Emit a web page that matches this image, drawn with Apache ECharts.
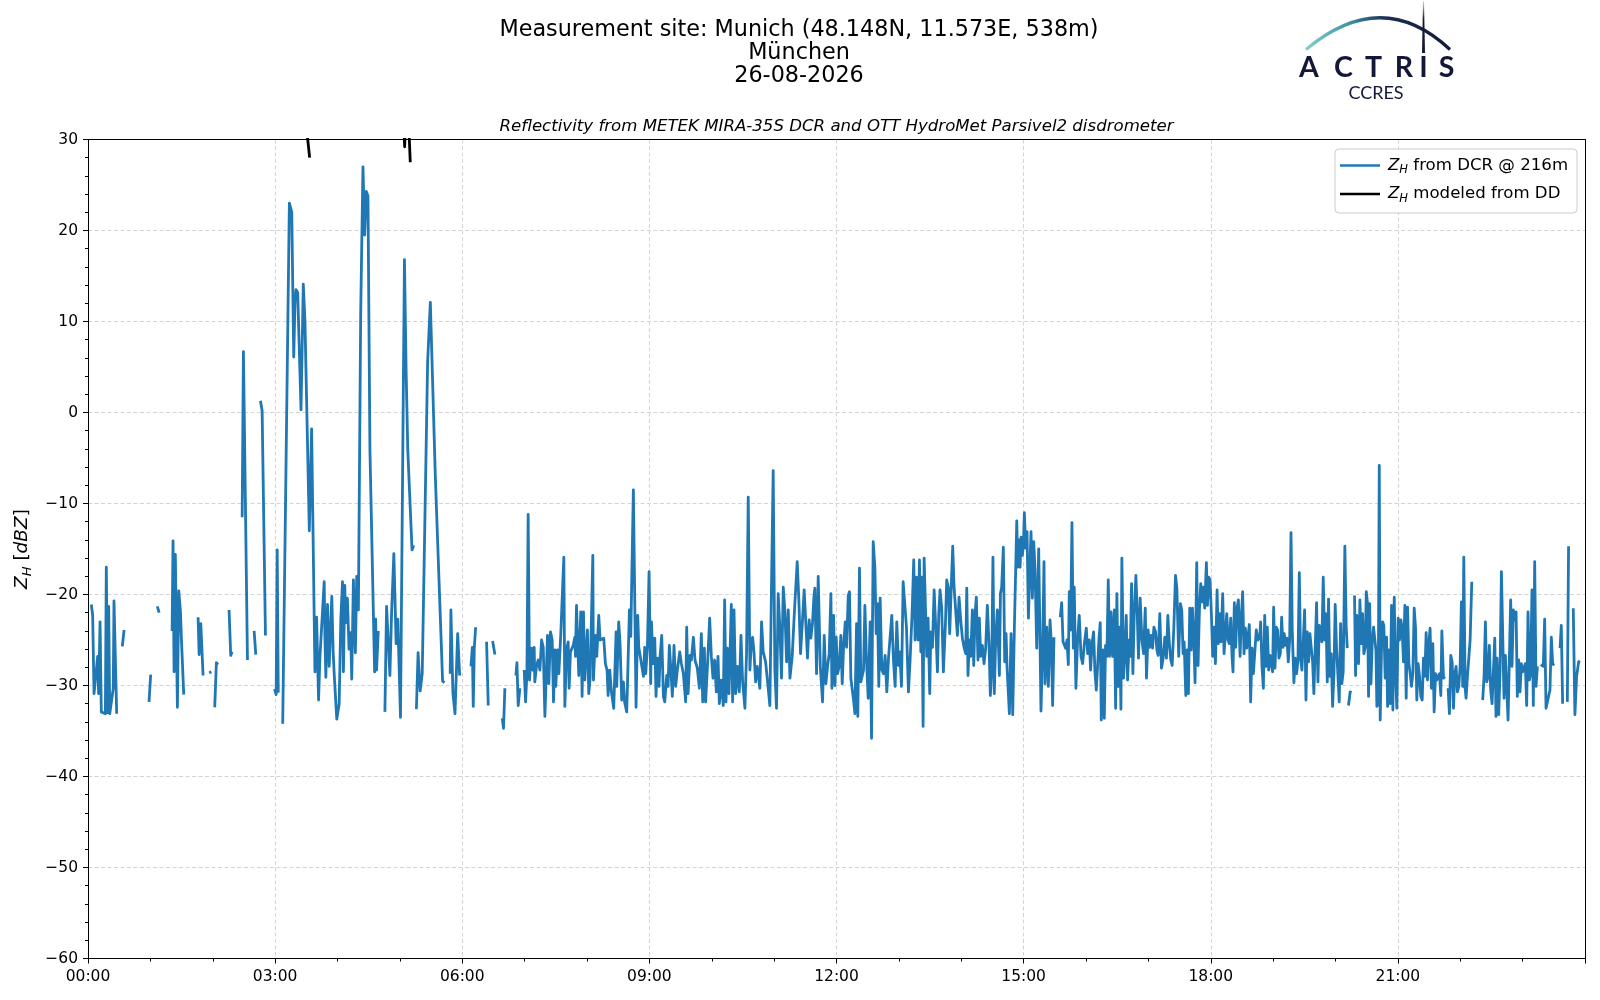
<!DOCTYPE html>
<html><head><meta charset="utf-8">
<script src="https://cdn.jsdelivr.net/npm/echarts@6/dist/echarts.min.js"></script>
<style>html,body{margin:0;padding:0;background:#fff}#c{width:1600px;height:1000px}</style>
</head><body><div id="c"></div>
<script>
// Minutes after 00:00 UTC, Z_H in dBZ. null = gap in the record.
const dcrH00 = [[3.2,-21.1],[4.5,-22.3],[5.8,-30.9],[9.3,-26.8],[10.2,-30.9],[11.6,-23.0],[12.8,-32.9],[16.7,-33.1],[17.6,-17.0],[19.0,-33.0],[19.9,-21.3],[20.9,-33.1],[22.5,-33.1],[24.3,-30.3],[25.0,-20.7],[27.6,-33.1],[30,null],
[33.0,-25.7],[34.7,-23.9],[45,null],[58.7,-31.8],[60.3,-28.8],[63,null],[66.7,-21.3],[68.4,-22.0],[75,null],
[80.9,-24.0],[81.8,-14.1],[82.8,-28.5],[84.0,-15.6],[86.0,-32.4],[87.3,-19.6],[88.9,-21.8],[89.9,-25.0],[92.1,-31.0],[100,null],
[105.9,-22.5],[106.9,-26.6],[108.5,-23.2],[110.7,-28.9],[113,null],[116.5,-28.6],[118.7,-28.5],[120,null],
[121.9,-32.4],[123.5,-27.5],[125.1,-27.7],[130,null],[135.7,-21.7],[137.3,-26.7],[138.6,-26.3],[143,null],
[148.3,-11.5],[149.5,6.7],[150.8,6.5],[153.4,-27.2],[156,null],[159.8,-24.0],[161.4,-26.6],[163,null],
[165.9,1.3],[167.5,0.2],[170.7,-24.5],[175,null],[179.4,-30.4],[181.0,-31.0],[182.0,-15.1],[183.0,-30.8],[185,null]];

const dcrH03 = [[187.3,-34.2],[193.7,23.0],[196.0,22.0],[197.9,6.1],[199.1,12.1],[200.1,13.5],[201.7,13.2],[204.9,0.3],[207.1,14.1],[208.7,10.0],[212.9,-13.0],[215.1,-1.8],[218.3,-28.5],[219.9,-22.5],[221.8,-31.6],[223.1,-26.9],[227.2,-18.6],[227.9,-24.8],[228.8,-29.1],[230.4,-21.1],[232.0,-27.9],[234.5,-20.2],[235.8,-26.2],[236.8,-28.7],[239.3,-33.7],[241.6,-32.0],[243.2,-22.7],[244.8,-18.6],[245.7,-28.5],[247.0,-19.0],[247.9,-23.1],[249.5,-20.4],[251.1,-26.0],[252.7,-24.2],[253.7,-29.3],[255.3,-18.4],[257.2,-26.4],[258.5,-18.0],[260.1,-21.7],[262.3,10.8],[264.5,27.0],[266.1,19.5],[267.7,24.3],[269.3,23.8],[271.2,-4.1],[275.7,-28.5],[276.7,-22.7],[277.6,-28.3],[279.2,-24.0],[282,null],
[285.6,-32.9],[287.2,-21.3],[290.4,-28.9],[292.0,-22.1],[294.2,-15.5],[296.4,-25.4],[298.0,-22.7],[300.6,-33.5],[304.4,16.8],[306.0,4.6],[307.6,-4.1],[311.7,-15.1],[313.3,-14.6],[314.5,null],
[315.9,-32.6],[317.5,-26.4],[319.5,-30.6],[321.5,-28.7],[326.7,5.6],[329.3,12.1],[330.2,12.0],[334.1,-7.0],[341.1,-29.5],[342.7,-29.7],[345,null],
[348.4,-28.7],[349.1,-21.7],[351.0,-30.8],[353.0,-33.1],[355.6,-24.3],[357.5,-28.9],[362,null]];

const dcrH06 = [[368.4,-27.9],[369.7,-25.8],[370.6,-32.3],[371.6,-25.8],[372.9,-23.6],[376,null],[383.4,-25.2],[385.0,-32.2],[387,null],
[389.2,-25.1],[391.4,-26.6],[395,null],[398.5,-33.6],[399.7,-34.7],[401.0,-30.3],[406,null],
[411.6,-28.9],[412.6,-27.5],[413.8,-32.2],[415.4,-30.3],[417,null],
[419.6,-28.3],[420.9,-31.8],[422.2,-28.7],[423.4,-11.2],[424.7,-29.4],[426.6,-25.9],[427.6,-28.3],[429.2,-25.8],[429.8,-29.6],[431.4,-27.9],[433.0,-27.2],[434.7,-28.3],[436.3,-25.0],[437.9,-25.8],[439.5,-33.4],[442.0,-24.5],[443.3,-29.8],[444.9,-24.1],[446.5,-25.0],[447.8,-31.8],[449.1,-26.1],[450.0,-30.1],[451.6,-26.1],[452.9,-28.7],[454.8,-24.3],[456.1,-24.1],[457.7,-15.9],[458.7,-32.3],[460.3,-26.1],[461.9,-25.2],[462.8,-30.3],[464.1,-26.3],[466.7,-25.6],[468.3,-24.7],[468.9,-26.8],[469.9,-21.2],[472.1,-28.9],[474.0,-21.9],[475.3,-31.2],[476.6,-21.9],[477.9,-29.4],[480.4,-23.9],[481.7,-30.9],[483.0,-29.2],[485.6,-15.7],[486.2,-29.4],[488.1,-24.5],[489.4,-26.8],[491.3,-22.3],[492.6,-25.0],[494.5,-25.2],[496.1,-24.8],[497.7,-27.6],[499.3,-28.3],[500.3,-31.1],[501.9,-28.3],[503.5,-30.7],[505.7,-32.5],[508.0,-24.1],[508.6,-30.1],[510.5,-23.0],[511.8,-25.4],[513.4,-31.6],[515.0,-29.6],[516.3,-31.9],[518.2,-32.9],[518.9,-30.1],[520.8,-21.7],[522.1,-24.6],[524.6,-8.5],[527.2,-32.4],[528.8,-22.3],[529.8,-25.8],[534.3,-29.0],[535.5,-25.8],[536.5,-28.7],[538.1,-25.8]];

const dcrH09 = [[539.7,-17.5],[541.3,-29.8],[542.0,-23.0],[543.6,-27.6],[545.2,-24.8],[546.4,-31.2],[547.7,-27.0],[549.3,-30.1],[550.3,-26.8],[551.9,-24.5],[553.5,-31.2],[554.8,-31.8],[556.7,-28.9],[558.0,-30.1],[559.2,-25.6],[560.5,-27.9],[562.1,-31.2],[563.7,-25.6],[565.3,-30.1],[566.9,-28.3],[569.2,-26.3],[570.8,-27.6],[572.7,-28.7],[574.9,-31.8],[575.9,-23.6],[577.2,-30.9],[579.1,-26.7],[580.4,-27.2],[582.3,-24.7],[583.9,-27.2],[586.1,-28.1],[588.1,-30.3],[590.0,-24.3],[591.3,-31.8],[592.9,-25.9],[594.1,-31.8],[595.7,-28.3],[598.0,-22.6],[599.6,-26.8],[601.2,-29.2],[602.8,-27.2],[604.4,-30.7],[606.0,-26.8],[607.3,-32.0],[609.2,-29.4],[611.1,-32.2],[612.4,-20.6],[613.7,-31.8],[615.0,-25.9],[616.6,-30.9],[618.8,-21.1],[620.1,-31.8],[621.4,-21.7],[623.0,-30.9],[624.6,-27.9],[626.5,-30.7],[628.1,-24.5],[629.7,-29.6],[631.9,-32.5],[633.5,-26.3],[635.1,-9.3],[636.7,-28.3],[638.0,-25.4],[639.3,-24.7],[640.6,-26.3],[642.2,-29.6],[643.8,-27.9],[646.3,-30.3],[647.9,-23.0],[649.5,-26.3],[651.8,-27.4],[654.3,-30.3],[655.9,-32.2],[657.2,-21.3],[659.1,-6.4],[660.7,-28.3],[662.3,-32.5],[663.9,-19.9],[665.5,-23.6],[667.1,-29.2],[668.8,-19.2],[670.4,-21.9],[672.0,-27.4],[673.6,-21.7],[675.2,-29.2],[677.4,-26.8],[679.6,-21.7],[682.2,-16.4],[683.8,-20.6],[685.4,-26.5],[687.0,-23.4],[688.9,-19.5],[690.5,-23.2],[692.1,-27.0],[693.7,-22.8],[695.3,-24.8],[696.9,-23.2],[698.2,-20.4],[699.2,-19.3],[700.8,-28.7],[702.4,-18.0],[704.4,-27.9],[706.6,-31.8],[708.2,-24.5],[709.8,-29.8],[711.4,-27.9],[713.0,-26.5],[714.6,-19.9],[715.6,-30.3],[717.2,-22.3],[718.5,-30.0],[719.7,-24.7]];

const dcrH12 = [[721.0,-28.7],[722.6,-27.9],[724.2,-24.5],[725.5,-29.8],[726.8,-25.8],[728.4,-23.0],[729.7,-25.8],[731.3,-20.1],[732.5,-19.7],[733.8,-29.2],[736.4,-31.6],[737.7,-33.1],[739.3,-23.2],[740.5,-33.4],[742.1,-17.1],[743.4,-29.6],[746.0,-28.3],[747.3,-21.2],[748.9,-27.4],[750.5,-31.4],[752.4,-23.0],[753.7,-35.8],[755.3,-14.2],[756.9,-17.0],[758.2,-24.3],[759.4,-21.0],[760.7,-30.1],[762.0,-20.4],[763.6,-28.3],[765.2,-28.7],[766.8,-26.7],[768.4,-30.7],[770.0,-27.0],[771.6,-27.2],[773.2,-22.3],[774.8,-27.2],[776.4,-30.1],[778.0,-23.0],[779.6,-27.8],[780.9,-26.3],[782.5,-30.1],[784.1,-18.6],[785.7,-18.6],[787.3,-23.6],[789.2,-30.7],[790.8,-27.2],[792.7,-22.1],[794.3,-16.2],[795.6,-25.0],[796.9,-18.1],[798.5,-25.0],[799.8,-16.2],[801.1,-26.3],[802.0,-18.1],[803.3,-34.5],[804.3,-16.0],[805.2,-16.0],[806.8,-26.8],[808.1,-22.6],[809.7,-30.9],[810.7,-24.1],[812.3,-25.8],[813.9,-19.5],[815.5,-23.6],[817.1,-28.5],[818.4,-22.1],[819.6,-19.5],[821.2,-21.5],[822.8,-28.5],[824.8,-23.2],[826.0,-18.4],[827.6,-19.2],[828.9,-24.3],[830.5,-18.8],[831.8,-14.7],[833.1,-19.2],[834.7,-19.3],[836.3,-24.5],[837.9,-20.3],[839.5,-22.8],[841.1,-24.8],[842.7,-25.8],[844.3,-26.5],[845.3,-19.3],[846.5,-28.9],[847.8,-25.0],[849.1,-26.8],[850.7,-21.7],[852.0,-27.8],[853.3,-22.1],[854.5,-20.3],[856.1,-27.2],[857.4,-22.6],[858.7,-26.8],[860.3,-25.6],[861.9,-27.6],[863.5,-25.9],[865.1,-21.2],[866.7,-25.4],[868.0,-31.1],[869.3,-28.3],[870.5,-15.9],[871.8,-30.9],[873.1,-25.0],[874.7,-21.7],[876.7,-28.9],[877.7,-19.9],[878.9,-19.2],[880.5,-14.8],[881.8,-27.4],[883.1,-24.3],[884.1,-28.1],[886.3,-33.1],[887.9,-24.3],[889.5,-33.2],[891.1,-23.6],[892.4,-17.1],[893.4,-11.9],[894.3,-17.0],[895.6,-14.0],[896.6,-17.0],[897.5,-13.7],[898.8,-15.7],[899.8,-14.6]];

const dcrH15 = [[900.7,-11.0],[902.0,-14.9],[903.3,-13.1],[904.6,-22.6],[905.8,-17.9],[907.1,-13.1],[908.4,-20.4],[909.7,-14.2],[911.0,-17.3],[912.6,-25.9],[914.5,-15.0],[916.7,-32.8],[918.3,-25.8],[919.6,-16.4],[920.6,-29.8],[922.2,-23.6],[923.8,-30.1],[925.4,-22.8],[926.7,-25.4],[927.9,-32.2],[929.2,-24.7],[932,null],
[935.3,-22.5],[936.6,-20.9],[937.9,-25.2],[939.1,-25.4],[940.4,-25.9],[941.7,-25.0],[943.0,-27.7],[943.9,-19.7],[945.2,-23.9],[946.5,-12.1],[947.8,-25.9],[948.7,-19.2],[950.3,-30.3],[951.9,-25.0],[953.5,-22.3],[955.2,-26.8],[956.8,-27.6],[958.4,-25.4],[960.3,-23.7],[961.6,-26.5],[963.2,-25.0],[964.4,-28.3],[966.0,-25.2],[967.3,-24.1],[968.6,-28.5],[969.9,-30.5],[971.2,-27.8],[972.4,-25.0],[973.7,-23.1],[974.7,-33.8],[976.3,-26.1],[977.6,-33.6],[978.8,-25.6],[980.1,-26.8],[981.4,-18.4],[982.7,-26.8],[984.0,-21.9],[985.6,-26.8],[987.2,-21.7],[988.5,-32.5],[989.7,-19.9],[991.0,-30.1],[992.3,-23.6],[993.6,-32.6],[994.5,-16.0],[996.1,-29.2],[997.4,-26.5],[998.7,-22.3],[1000.0,-29.4],[1001.6,-25.0],[1002.5,-26.8],[1003.8,-18.8],[1005.1,-28.7],[1006.4,-22.1],[1008.0,-17.9],[1009.3,-22.1],[1010.5,-27.0],[1012.1,-20.4],[1013.8,-25.0],[1015.4,-26.5],[1017.0,-21.5],[1018.2,-29.2],[1019.8,-23.9],[1021.1,-25.8],[1022.4,-24.5],[1024.0,-25.9],[1025.3,-23.6],[1026.9,-24.1],[1028.2,-26.1],[1029.4,-26.7],[1031.0,-22.1],[1032.6,-28.1],[1034.2,-27.0],[1035.8,-24.7],[1037.4,-27.0],[1038.7,-22.3],[1040.3,-25.6],[1041.6,-27.2],[1042.9,-27.8],[1044.5,-23.6],[1046.1,-17.9],[1047.4,-19.3],[1049.2,-26.8],[1050.8,-21.0],[1052.1,-21.7],[1053.4,-26.5],[1054.4,-25.2],[1056.0,-31.1],[1057.2,-26.1],[1058.5,-30.9],[1059.8,-21.5],[1061.1,-26.1],[1062.4,-21.5],[1063.7,-25.0],[1064.9,-29.7],[1066.5,-16.5],[1067.8,-27.8],[1069.1,-21.7],[1070.4,-18.8],[1071.7,-20.8],[1072.9,-19.2],[1074.2,-21.5],[1075.8,-16.5],[1076.8,-21.2],[1078.1,-18.1],[1079.3,-18.4]];

const dcrH18 = [[1080.6,-22.1],[1081.9,-26.8],[1083.2,-23.6],[1084.5,-27.6],[1086.1,-19.5],[1087.3,-25.4],[1088.6,-22.1],[1089.9,-25.2],[1091.5,-19.9],[1092.8,-26.5],[1094.1,-26.7],[1095.4,-22.1],[1096.6,-25.0],[1097.9,-25.4],[1099.2,-22.6],[1100.5,-26.8],[1101.4,-28.5],[1102.7,-20.9],[1104.0,-25.8],[1105.3,-21.5],[1106.6,-20.6],[1108.2,-26.8],[1109.4,-22.5],[1110.7,-19.7],[1112.0,-26.5],[1113.3,-23.7],[1114.6,-25.9],[1115.8,-26.1],[1117.1,-23.3],[1118.4,-31.8],[1119.7,-25.9],[1121.0,-28.7],[1122.2,-28.9],[1123.8,-23.9],[1125.4,-25.0],[1127.1,-24.7],[1128.0,-23.0],[1129.3,-27.9],[1130.6,-30.3],[1131.9,-22.3],[1133.1,-27.9],[1134.4,-23.6],[1135.7,-28.3],[1137.0,-26.7],[1138.3,-27.6],[1139.5,-28.5],[1140.5,-21.4],[1141.8,-28.1],[1143.1,-23.6],[1144.3,-23.9],[1145.6,-27.0],[1146.9,-26.5],[1148.2,-22.5],[1149.5,-25.8],[1150.7,-24.3],[1152.0,-25.6],[1153.3,-24.8],[1154.6,-27.4],[1155.9,-25.0],[1157.2,-13.2],[1158.4,-23.9],[1160.0,-29.7],[1161.3,-27.0],[1162.6,-28.7],[1163.9,-27.2],[1165.2,-17.6],[1166.4,-27.0],[1167.7,-28.3],[1169.0,-28.3],[1170.3,-21.7],[1171.6,-31.6],[1172.8,-24.1],[1174.1,-27.4],[1175.4,-24.3],[1176.7,-25.9],[1178.0,-27.4],[1179.2,-30.9],[1180.5,-25.8],[1181.8,-20.9],[1183.1,-29.6],[1184.4,-23.4],[1185.6,-23.2],[1186.9,-25.2],[1188.2,-18.1],[1189.5,-25.0],[1190.8,-22.1],[1192.1,-29.6],[1193.3,-20.5],[1194.6,-29.0],[1195.9,-26.5],[1197.2,-32.3],[1198.5,-28.7],[1199.7,-21.1],[1201.0,-25.9],[1202.3,-26.1],[1203.6,-31.8],[1204.9,-23.2],[1206.1,-29.8],[1207.4,-28.5],[1209.0,-14.7],[1210.3,-23.6],[1211.3,-25.9],[1212,null],
[1212.5,-32.2],[1214.1,-30.7],[1215.4,-30.8],[1217,null],
[1218.3,-20.1],[1219.3,-28.9],[1220.5,-22.3],[1222.2,-27.6],[1223.5,-20.6],[1224.8,-25.4],[1226.0,-22.1],[1227.3,-26.5],[1228.6,-25.8],[1229.6,-19.7],[1230.8,-21.0],[1231.8,-31.2],[1232.8,-21.0],[1234.1,-29.8],[1235.3,-25.4],[1236.6,-23.6],[1237.9,-23.6],[1238.9,-26.1],[1239.8,-32.3],[1241.1,-32.0],[1242.1,-5.8],[1243.0,-33.8],[1244.3,-25.6],[1245.3,-23.0],[1246.5,-23.4],[1247.8,-29.2],[1249.1,-24.7],[1250.1,-32.3],[1251.3,-26.1],[1252.6,-32.0],[1253.9,-21.2],[1255.2,-32.7],[1256.5,-20.3],[1257.7,-28.3],[1259.0,-32.5]];

const dcrH21 = [[1260.3,-22.6],[1261.6,-25.0],[1262.9,-22.8],[1264.1,-23.7],[1265.4,-27.4],[1266.7,-21.2],[1268.0,-31.4],[1269.3,-21.4],[1270.6,-27.6],[1271.8,-28.7],[1273.1,-30.1],[1274.4,-28.7],[1275.7,-21.5],[1277.0,-23.7],[1278.2,-31.6],[1279.5,-27.6],[1280.8,-29.0],[1282.1,-31.2],[1283.4,-31.6],[1284.6,-27.0],[1285.9,-29.0],[1287.2,-24.2],[1288.5,-29.4],[1289.8,-25.4],[1291.0,-23.7],[1292.3,-30.3],[1293.6,-25.4],[1294.9,-32.9],[1296.2,-28.7],[1297.4,-29.4],[1298.7,-29.0],[1300.0,-28.7],[1301.3,-31.1],[1302.3,-24.0],[1303.9,-29.2],[1305.1,-29.0],[1306.5,null],
[1308.3,-30.3],[1309.6,-33.1],[1310.9,-26.7],[1312.2,-27.4],[1313.5,-32.5],[1314.7,-28.7],[1316.0,-27.9],[1317.3,-30.7],[1318.6,-30.1],[1319.9,-27.9],[1321.1,-20.8],[1322.4,-30.1],[1323.4,-15.9],[1324.7,-30.3],[1325.6,-31.4],[1326.9,-29.0],[1328.2,-29.0],[1329.5,-25.0],[1331.1,-18.6],[1336,null],
[1341.6,-31.6],[1342.9,-29.0],[1344.2,-23.0],[1345.5,-29.6],[1346.8,-29.0],[1348.0,-25.6],[1349.3,-30.5],[1350.6,-32.0],[1351.9,-32.0],[1353.2,-24.8],[1354.4,-33.4],[1355.4,-27.0],[1357.0,-33.2],[1358.3,-28.3],[1359.6,-17.5],[1360.9,-17.7],[1362.1,-31.4],[1363.4,-26.7],[1364.7,-26.7],[1366.0,-33.8],[1367.3,-26.8],[1368.5,-20.6],[1369.8,-27.9],[1371.1,-21.7],[1372.4,-22.8],[1373.7,-21.9],[1374.9,-31.2],[1376.2,-27.2],[1377.5,-30.7],[1378.8,-27.6],[1380.1,-28.5],[1382.6,-27.6],[1383.9,-32.2],[1385.2,-21.9],[1386.5,-29.4],[1387.7,-28.7],[1389.0,-19.5],[1390.3,-32.2],[1391.6,-16.4],[1392.9,-30.1],[1394.2,-27.9],[1395.8,null],
[1397.4,-27.7],[1398.6,-27.8],[1399.9,-27.9],[1401.2,-22.7],[1402.5,-32.5],[1406.3,-30.5],[1407.6,-24.7],[1408.9,-27.6],[1410.2,-27.8],[1413,null],
[1416.0,-25.9],[1417.2,-23.4],[1418.5,-32.0],[1420.5,null],[1423.0,-31.8],[1424.2,-14.7],[1426,null],
[1428.7,-21.5],[1430.3,-33.2],[1431.9,-29.0],[1433.9,-27.4],[1435.1,-27.3]];

// Disdrometer-modelled Z_H (mostly above the plotted range)
const ddMinutes = [209.5, 213.2, 214, 304.0, 304.6, 305.2, 306, 308.0, 310.0];
const ddZh      = [32.0, 28.0, null, 31.0, 29.2, 31.0, null, 33.0, 27.5];

const titleLines = ['Measurement site: Munich (48.148N, 11.573E, 538m)', 'München', '26-08-2026'];
const subTitle = 'Reflectivity from METEK MIRA-35S DCR and OTT HydroMet Parsivel2 disdrometer';
const legendLabels = {DCR: ' from DCR @ 216m', DD: ' modeled from DD'};

const FONT = 'DejaVu Sans';
const dcrData = [].concat(dcrH00, dcrH03, dcrH06, dcrH09, dcrH12, dcrH15, dcrH18, dcrH21);
const ddData = ddMinutes.map((m, i) => [m, ddZh[i]]);
const pad = n => (n < 10 ? '0' : '') + n;
const NAVY = '#141838';
const frameAxis = {show: true, axisLine: {show: true, onZero: false, lineStyle: {color: '#000', width: 1}},
  axisTick: {show: false}, axisLabel: {show: false}, splitLine: {show: false}, minorTick: {show: false}};

const chart = echarts.init(document.getElementById('c'), null, {renderer: 'canvas', width: 1600, height: 1000});
chart.setOption({
  animation: false,
  backgroundColor: '#ffffff',
  grid: {left: 88, right: 15, top: 139.5, bottom: 41.5},
  xAxis: [{
    type: 'value', min: 0, max: 1440, interval: 180, position: 'bottom',
    axisLine: {show: true, onZero: false, lineStyle: {color: '#000', width: 1}},
    axisTick: {show: true, length: 5, lineStyle: {color: '#000', width: 1}},
    minorTick: {show: true, splitNumber: 3, length: 3, lineStyle: {color: '#000', width: 1}},
    axisLabel: {color: '#000', fontFamily: FONT, fontSize: 15.5, margin: 10, showMaxLabel: false,
      formatter: v => v >= 1440 ? '' : pad(Math.floor(v / 60)) + ':' + pad(v % 60)},
    splitLine: {show: true, lineStyle: {color: '#d4d4d4', type: [4, 2.5], width: 1}},
    minorSplitLine: {show: false}
  }, Object.assign({type: 'value', min: 0, max: 1440, position: 'top'}, frameAxis)],
  yAxis: [{
    type: 'value', min: -60, max: 30, interval: 10, position: 'left',
    axisLine: {show: true, onZero: false, lineStyle: {color: '#000', width: 1}},
    axisTick: {show: true, length: 5, lineStyle: {color: '#000', width: 1}},
    minorTick: {show: true, splitNumber: 5, length: 3, lineStyle: {color: '#000', width: 1}},
    axisLabel: {color: '#000', fontFamily: FONT, fontSize: 15.5, margin: 10,
      formatter: v => v < 0 ? '\u2212' + Math.abs(v) : String(v)},
    splitLine: {show: true, lineStyle: {color: '#d4d4d4', type: [4, 2.5], width: 1}},
    minorSplitLine: {show: false}
  }, Object.assign({type: 'value', min: -60, max: 30, position: 'right'}, frameAxis)],
  legend: {
    orient: 'vertical', left: 1335, top: 149,
    data: [{name: 'DCR', icon: 'rect'}, {name: 'DD', icon: 'rect'}],
    itemWidth: 40, itemHeight: 2.6, itemGap: 9,
    padding: [8, 9, 8, 5],
    selectedMode: false,
    backgroundColor: 'rgba(255,255,255,0.85)', borderColor: '#cccccc', borderWidth: 1, borderRadius: 4,
    formatter: n => '{i|Z}{s|H}{t|' + legendLabels[n] + '}',
    textStyle: {color: '#000', fontFamily: FONT, fontSize: 16.6,
      rich: {
        i: {fontFamily: FONT, fontSize: 16.6, fontStyle: 'italic', color: '#000', lineHeight: 22, padding: [0, 0, 0, 3]},
        s: {fontFamily: FONT, fontSize: 11.5, fontStyle: 'italic', color: '#000', verticalAlign: 'bottom', lineHeight: 16},
        t: {fontFamily: FONT, fontSize: 16.6, color: '#000', lineHeight: 22}
      }}
  },
  graphic: [
    {type: 'text', x: 799, y: 30.5, style: {text: titleLines[0], fontFamily: FONT, fontSize: 22.3, fill: '#000', align: 'center', verticalAlign: 'middle'}},
    {type: 'text', x: 799, y: 53.5, style: {text: titleLines[1], fontFamily: FONT, fontSize: 22.3, fill: '#000', align: 'center', verticalAlign: 'middle'}},
    {type: 'text', x: 799, y: 76.3, style: {text: titleLines[2], fontFamily: FONT, fontSize: 22.3, fill: '#000', align: 'center', verticalAlign: 'middle'}},
    {type: 'text', x: 836.5, y: 127, style: {text: subTitle, fontFamily: FONT, fontSize: 16.6, fontStyle: 'italic', fill: '#000', align: 'center', verticalAlign: 'middle'}},
    {type: 'text', x: 22.5, y: 549, rotation: Math.PI / 2,
      style: {text: '{i|Z}{s|H}{t| [}{i|dBZ}{t|]}', align: 'center', verticalAlign: 'middle', fontFamily: FONT, fontSize: 18.5, fill: '#000',
        rich: {
          i: {fontFamily: FONT, fontSize: 18.5, fontStyle: 'italic', fill: '#000', lineHeight: 24},
          s: {fontFamily: FONT, fontSize: 13, fontStyle: 'italic', fill: '#000', verticalAlign: 'bottom', lineHeight: 17},
          t: {fontFamily: FONT, fontSize: 18.5, fill: '#000', lineHeight: 24}
        }}},
    // ACTRIS / CCRES logo
    {type: 'bezierCurve', shape: {x1: 1306, y1: 49.5, x2: 1450, y2: 49.5, cpx1: 1382, cpy1: -14},
      style: {fill: null, lineWidth: 3.2,
        stroke: {type: 'linear', x: 0, y: 0, x2: 1, y2: 0, colorStops: [
          {offset: 0, color: '#86d3cb'}, {offset: 0.3, color: '#3f97a3'}, {offset: 0.55, color: '#1d2d55'}, {offset: 1, color: NAVY}]}}},
    {type: 'polygon', shape: {points: [[1423, 1], [1424, 1], [1425, 53], [1422, 53]]},
      style: {fill: {type: 'linear', x: 0, y: 0, x2: 0, y2: 1, colorStops: [{offset: 0, color: '#d8d8e2'}, {offset: 0.35, color: NAVY}, {offset: 1, color: NAVY}]}}},
    {type: 'text', x: 1309, y: 67.5, style: {text: 'A', fontFamily: 'Lato', fontWeight: 'bold', fontSize: 28.5, fill: NAVY, align: 'center', verticalAlign: 'middle'}},
    {type: 'text', x: 1343.5, y: 67.5, style: {text: 'C', fontFamily: 'Lato', fontWeight: 'bold', fontSize: 28.5, fill: NAVY, align: 'center', verticalAlign: 'middle'}},
    {type: 'text', x: 1373.5, y: 67.5, style: {text: 'T', fontFamily: 'Lato', fontWeight: 'bold', fontSize: 28.5, fill: NAVY, align: 'center', verticalAlign: 'middle'}},
    {type: 'text', x: 1404, y: 67.5, style: {text: 'R', fontFamily: 'Lato', fontWeight: 'bold', fontSize: 28.5, fill: NAVY, align: 'center', verticalAlign: 'middle'}},
    {type: 'text', x: 1423.5, y: 67.5, style: {text: 'I', fontFamily: 'Lato', fontWeight: 'bold', fontSize: 28.5, fill: NAVY, align: 'center', verticalAlign: 'middle'}},
    {type: 'text', x: 1446.5, y: 67.5, style: {text: 'S', fontFamily: 'Lato', fontWeight: 'bold', fontSize: 28.5, fill: NAVY, align: 'center', verticalAlign: 'middle'}},
    {type: 'text', x: 1376, y: 93, style: {text: 'CCRES', fontFamily: 'Lato', fontSize: 18, fill: NAVY, align: 'center', verticalAlign: 'middle'}}
  ],
  series: [
    {name: 'DCR', type: 'line', data: dcrData, showSymbol: false, symbol: 'none', connectNulls: false, clip: true, z: 3,
      itemStyle: {color: '#1f77b4'}, lineStyle: {color: '#1f77b4', width: 2.8, join: 'round'}},
    {name: 'DD', type: 'line', data: ddData, showSymbol: false, symbol: 'none', connectNulls: false, clip: true, z: 4,
      itemStyle: {color: '#000'}, lineStyle: {color: '#000', width: 2.8, join: 'round'}}
  ]
});
</script>
</body></html>
